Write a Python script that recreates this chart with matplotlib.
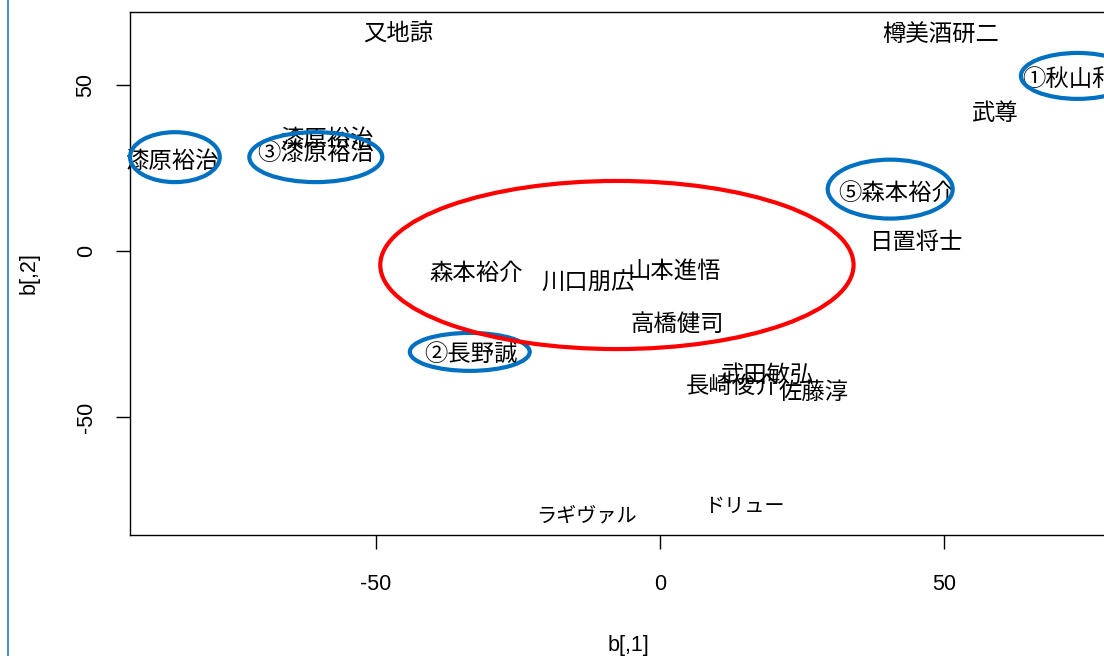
import matplotlib
matplotlib.use("Agg")
import matplotlib.pyplot as plt
from matplotlib.patches import Ellipse
from matplotlib.lines import Line2D

plt.rcParams['font.family'] = ['Liberation Sans', 'DejaVu Sans']

# 選手ごとのラベルと座標 (b[,1], b[,2])
names = ["又地諒", "樽美酒研二", "①秋山和彦", "武尊", "漆原裕治", "漆原裕治",
         "③漆原裕治", "⑤森本裕介", "日置将士", "森本裕介", "川口朋広", "山本進悟",
         "高橋健司", "②長野誠", "長崎俊介", "武田敏弘", "佐藤淳", "ドリュー", "ラギヴァル"]
b1 = [-46.1, 49.3, 74.0, 58.8, -86.0, -58.6,
      -60.7, 41.7, 45.2, -32.4, -12.7, 2.5,
      3.0, -33.3, 12.7, 18.7, 27.1, 14.8, -12.9]
b2 = [65.5, 65.0, 51.6, 41.4, 26.9, 33.6,
      29.2, 17.4, 2.7, -6.6, -9.3, -6.2,
      -22.2, -31.2, -40.8, -37.2, -42.6, -76.8, -79.5]

# 囲み (中心x, 中心y, 幅, 高さ)
blue_marks = [(-85.4, 28.2, 15.8, 15.0),
              (-60.6, 28.2, 23.4, 15.0),
              (40.5, 18.6, 22.0, 17.7),
              (-33.5, -30.3, 21.1, 11.4),
              (73.5, 52.6, 20.0, 13.8)]
red_mark = (-7.6, -4.2, 83.3, 50.5)

xticks = [-50, 0, 50]
yticks = [-50, 0, 50]

fig = plt.figure(figsize=(11.04, 6.56), dpi=100)
ax = fig.add_axes([130 / 1104, 121 / 656, 996 / 1104, 523 / 656])

ax.set_xlim(-93.3, 82.0)
ax.set_ylim(-85.3, 71.8)

for nm, x, y in zip(names, b1, b2):
    # カタカナは元図では詰まって見えるので少し小さめ
    kana = all('\u30a0' <= c <= '\u30ff' for c in nm)
    ax.text(x, y, nm, ha='center', va='center', fontsize=14.5 if kana else 16.8,
            family=['Noto Sans CJK JP', 'DejaVu Sans'], color='black')

for cx, cy, w, h in blue_marks:
    ax.add_patch(Ellipse((cx, cy), w, h, fill=False, edgecolor='#0070C0',
                         lw=3.0, clip_on=False, zorder=5))
cx, cy, w, h = red_mark
ax.add_patch(Ellipse((cx, cy), w, h, fill=False, edgecolor='#FF0000',
                     lw=3.0, clip_on=False, zorder=5))

ax.set_xticks(xticks)
ax.set_yticks(yticks)
ax.set_xticklabels([str(t) for t in xticks])
ax.set_yticklabels([str(t) for t in yticks], rotation=90, va='center')
ax.tick_params(axis='both', direction='out', length=10, width=1.0,
               labelsize=15.5, colors='black')
ax.tick_params(axis='x', pad=18)
ax.tick_params(axis='y', pad=14)
for s in ['left', 'bottom', 'top']:
    ax.spines[s].set_linewidth(1.0)
ax.spines['right'].set_visible(False)

ax.set_xlabel("b[,1]", fontsize=15.5, labelpad=29)
ax.set_ylabel("b[,2]", fontsize=15.5, labelpad=26)

# 左端の青い縦線
fig.add_artist(Line2D([8 / 1104, 8 / 1104], [0, 1], color='#2E75B6', lw=1.2,
                      transform=fig.transFigure))

fig.savefig("out.png", dpi=100)
